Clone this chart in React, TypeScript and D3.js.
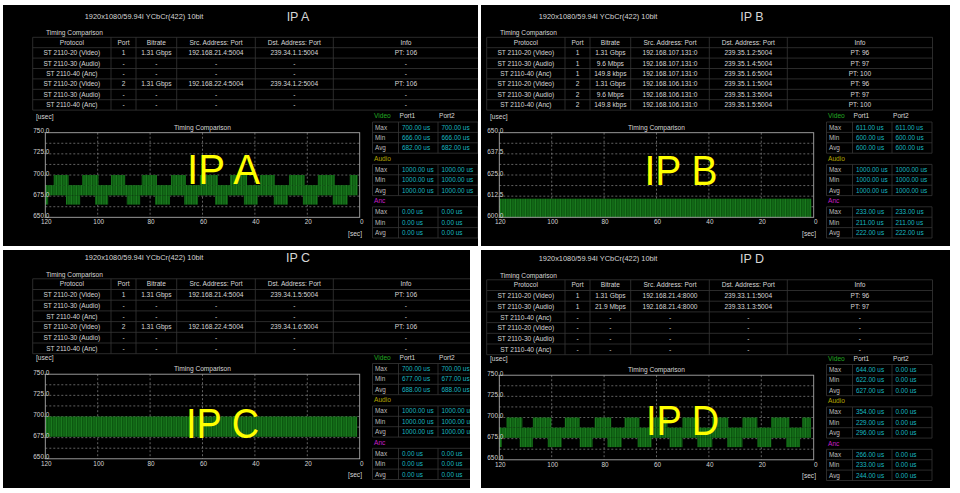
import React from "react";
import * as d3 from "d3";

// ---------- DATA ----------
const FORMAT_TEXT = "1920x1080/59.94I YCbCr(422) 10bit";
const TABLE_TITLE = "Timing Comparison";
const TABLE_COLUMNS = ["Protocol", "Port", "Bitrate", "Src. Address: Port", "Dst. Address: Port", "Info"];
const PROTOCOLS = ["ST 2110-20 (Video)", "ST 2110-30 (Audio)", "ST 2110-40 (Anc)", "ST 2110-20 (Video)", "ST 2110-30 (Audio)", "ST 2110-40 (Anc)"];

const IPA_PORT = ["1", "-", "-", "2", "-", "-"];
const IPA_BITRATE = ["1.31 Gbps", "-", "-", "1.31 Gbps", "-", "-"];
const IPA_SRC = ["192.168.21.4:5004", "-", "-", "192.168.22.4:5004", "-", "-"];
const IPA_DST = ["239.34.1.1:5004", "-", "-", "239.34.1.2:5004", "-", "-"];
const IPA_INFO = ["PT: 106", "-", "-", "PT: 106", "-", "-"];

const IPB_PORT = ["1", "1", "1", "2", "2", "2"];
const IPB_BITRATE = ["1.31 Gbps", "9.6 Mbps", "149.8 kbps", "1.31 Gbps", "9.6 Mbps", "149.8 kbps"];
const IPB_SRC = ["192.168.107.131:0", "192.168.107.131:0", "192.168.107.131:0", "192.168.106.131:0", "192.168.106.131:0", "192.168.106.131:0"];
const IPB_DST = ["239.35.1.2:5004", "239.35.1.4:5004", "239.35.1.6:5004", "239.35.1.1:5004", "239.35.1.3:5004", "239.35.1.5:5004"];
const IPB_INFO = ["PT: 96", "PT: 97", "PT: 100", "PT: 96", "PT: 97", "PT: 100"];

const IPC_PORT = ["1", "-", "-", "2", "-", "-"];
const IPC_BITRATE = ["1.31 Gbps", "-", "-", "1.31 Gbps", "-", "-"];
const IPC_SRC = ["192.168.21.4:5004", "-", "-", "192.168.22.4:5004", "-", "-"];
const IPC_DST = ["239.34.1.5:5004", "-", "-", "239.34.1.6:5004", "-", "-"];
const IPC_INFO = ["PT: 106", "-", "-", "PT: 106", "-", "-"];

const IPD_PORT = ["1", "1", "-", "-", "-", "-"];
const IPD_BITRATE = ["1.31 Gbps", "21.9 Mbps", "-", "-", "-", "-"];
const IPD_SRC = ["192.168.21.4:8000", "192.168.21.4:8000", "-", "-", "-", "-"];
const IPD_DST = ["239.33.1.1:5004", "239.33.1.3:5004", "-", "-", "-", "-"];
const IPD_INFO = ["PT: 96", "PT: 97", "-", "-", "-", "-"];

const STAT_GROUPS = ["Video", "Audio", "Anc"];
const STAT_ROWS = ["Max", "Min", "Avg"];
const STAT_PORTS = ["Port1", "Port2"];

const IPA_P1 = ["700.00 us", "666.00 us", "682.00 us", "1000.00 us", "1000.00 us", "1000.00 us", "0.00 us", "0.00 us", "0.00 us"];
const IPA_P2 = ["700.00 us", "666.00 us", "682.00 us", "1000.00 us", "1000.00 us", "1000.00 us", "0.00 us", "0.00 us", "0.00 us"];
const IPB_P1 = ["611.00 us", "600.00 us", "600.00 us", "1000.00 us", "1000.00 us", "1000.00 us", "233.00 us", "211.00 us", "222.00 us"];
const IPB_P2 = ["611.00 us", "600.00 us", "600.00 us", "1000.00 us", "1000.00 us", "1000.00 us", "233.00 us", "211.00 us", "222.00 us"];
const IPC_P1 = ["700.00 us", "677.00 us", "688.00 us", "1000.00 us", "1000.00 us", "1000.00 us", "0.00 us", "0.00 us", "0.00 us"];
const IPC_P2 = ["700.00 us", "677.00 us", "688.00 us", "1000.00 us", "1000.00 us", "1000.00 us", "0.00 us", "0.00 us", "0.00 us"];
const IPD_P1 = ["644.00 us", "622.00 us", "627.00 us", "354.00 us", "229.00 us", "296.00 us", "266.00 us", "233.00 us", "244.00 us"];
const IPD_P2 = ["0.00 us", "0.00 us", "0.00 us", "0.00 us", "0.00 us", "0.00 us", "0.00 us", "0.00 us", "0.00 us"];

const X_TICKS = [120, 100, 80, 60, 40, 20, 0];
const Y_TICKS_700 = [750, 725, 700, 675, 650];
const Y_GRID_700 = [737.5, 725, 712.5, 700, 687.5, 675, 662.5];
const Y_TICKS_625 = [650, 637.5, 625, 612.5, 600];
const Y_GRID_625 = [643.75, 637.5, 631.25, 625, 618.75, 612.5, 606.25];

// green timing traces: [from sec, to sec, low usec, high usec]
const IPA_BAND = [[120, 0.8, 676, 688]];
const IPA_HIGH = [[116.8, 111.1], [106.0, 99.7], [94.9, 89.5], [83.2, 77.4], [72.0, 66.3], [61.0, 54.1], [49.5, 43.0], [38.1, 32.4], [27.0, 21.0], [16.0, 9.5], [3.8, 0.8]];
const IPA_LOW = [[120, 118.9], [112.1, 106.7], [101.0, 96.0], [88.9, 83.8], [78.1, 72.4], [67.0, 61.7], [55.2, 50.3], [44.2, 38.9], [32.8, 27.4], [21.7, 16.0], [10.3, 4.6]];
const IPB_BAND = [[120, 0.9, 600, 611]];
const IPC_BAND = [[120, 1.0, 676, 700]];
const IPD_BAND = [[120, 1.1, 676, 688]];
const IPD_HIGH = [[117.3, 111.2], [107.2, 100.1], [95.0, 89.3], [83.6, 77.3], [72.2, 66.5], [61.5, 55.8], [50.1, 43.6], [38.7, 32.6], [27.2, 21.5], [16.3, 9.3], [4.4, 1.1]];
const IPD_LOW = [[120, 119.0], [112.2, 107.2], [101.5, 96.2], [89.3, 84.4], [78.7, 73.3], [67.2, 61.9], [55.0, 50.1], [44.4, 38.7], [33.0, 27.2], [21.5, 16.2], [10.5, 5.2]];
const HIGH_RANGE = [688, 700];
const LOW_RANGE = [665, 676];

// ---------- LAYOUT / STYLE ----------
const FONT = "'Liberation Sans', Arial, sans-serif";
const TXT = "#d6d6d6";
const LINE = "#363636";
const CYAN = "#18b8c0";
const GROUP_COLORS = ["#22a822", "#b4a400", "#c81ec8"];

type Cfg = {
  name: string; dx: number; dy: number; clip: number[]; rowH: number;
  cols: string[][]; p1: string[]; p2: string[];
  yTicks: number[]; yGrid: number[];
  band: number[][]; high: number[][]; low: number[][];
  big: number[];
};

const PANELS: Cfg[] = [
  { name: "IP A", dx: 26, dy: 0, clip: [3, 5, 475, 241], rowH: 10.4,
    cols: [PROTOCOLS, IPA_PORT, IPA_BITRATE, IPA_SRC, IPA_DST, IPA_INFO], p1: IPA_P1, p2: IPA_P2,
    yTicks: Y_TICKS_700, yGrid: Y_GRID_700, band: IPA_BAND, high: IPA_HIGH, low: IPA_LOW, big: [197.5, 184] },
  { name: "IP B", dx: 480, dy: 0, clip: [481, 5, 469, 241], rowH: 10.4,
    cols: [PROTOCOLS, IPB_PORT, IPB_BITRATE, IPB_SRC, IPB_DST, IPB_INFO], p1: IPB_P1, p2: IPB_P2,
    yTicks: Y_TICKS_625, yGrid: Y_GRID_625, band: IPB_BAND, high: [], low: [], big: [201, 185] },
  { name: "IP C", dx: 26, dy: 241.5, clip: [3, 250, 467, 238], rowH: 10.7,
    cols: [PROTOCOLS, IPC_PORT, IPC_BITRATE, IPC_SRC, IPC_DST, IPC_INFO], p1: IPC_P1, p2: IPC_P2,
    yTicks: Y_TICKS_700, yGrid: Y_GRID_700, band: IPC_BAND, high: [], low: [], big: [196.5, 196] },
  { name: "IP D", dx: 480, dy: 242.5, clip: [481, 250, 469, 238], rowH: 10.7,
    cols: [PROTOCOLS, IPD_PORT, IPD_BITRATE, IPD_SRC, IPD_DST, IPD_INFO], p1: IPD_P1, p2: IPD_P2,
    yTicks: Y_TICKS_700, yGrid: Y_GRID_700, band: IPD_BAND, high: IPD_HIGH, low: IPD_LOW, big: [202.5, 192] },
];

const COL_X = [6.7, 85, 110, 150.7, 229.3, 307.3, 452.5];
const TABLE_TOP = 37.3;
const PLOT = { left: 19.3, right: 333.7, top: 132.7, bottom: 217.3 };
const STAT_X = [346.5, 372.5, 412, 452];

function Panel({ c, idx }: { c: Cfg; idx: number }) {
  const x = d3.scaleLinear().domain([120, 0]).range([PLOT.left, PLOT.right]);
  const ext = d3.extent(c.yTicks) as [number, number];
  const y = d3.scaleLinear().domain(ext).range([PLOT.bottom, PLOT.top]);
  const fmt = d3.format(".1f");
  const pid = `stripes${idx}`;
  const rect = (d: number[], lo: number, hi: number, k: string) => (
    <rect key={k} x={x(d[0])} width={x(d[1]) - x(d[0])} y={y(hi)} height={y(lo) - y(hi)} fill={`url(#${pid})`} />
  );
  const rowsTop = TABLE_TOP;
  return (
    <g clipPath={`url(#clip${idx})`}>
      <defs>
        <clipPath id={`clip${idx}`}>
          <rect x={c.clip[0]} y={c.clip[1]} width={c.clip[2]} height={c.clip[3]} />
        </clipPath>
        <pattern id={pid} width={5} height={4} patternUnits="userSpaceOnUse">
          <rect width={5} height={4} fill="#0c5810" />
          <rect x={0} width={1} height={4} fill="#1a7a1e" />
          <rect x={2} width={1} height={4} fill="#136a17" />
          <rect x={3.5} width={0.8} height={4} fill="#18761c" />
        </pattern>
      </defs>
      <rect x={c.clip[0]} y={c.clip[1]} width={c.clip[2]} height={c.clip[3]} fill="#000" />
      <g transform={`translate(${c.dx},${c.dy})`} fontFamily={FONT}>
        {/* header */}
        <text x={118} y={18.5} fontSize={7.4} fill={TXT} textAnchor="middle">{FORMAT_TEXT}</text>
        <text x={272} y={20.5} fontSize={12.5} fill={TXT} textAnchor="middle">{c.name}</text>
        <text x={20} y={35.3} fontSize={6.6} fill={TXT}>{TABLE_TITLE}</text>
        {/* table */}
        {d3.range(8).map((i) => (
          <line key={`h${i}`} x1={COL_X[0]} x2={COL_X[6]} y1={rowsTop + i * c.rowH} y2={rowsTop + i * c.rowH} stroke={LINE} strokeWidth={0.8} />
        ))}
        {COL_X.map((cx, i) => (
          <line key={`v${i}`} x1={cx} x2={cx} y1={rowsTop} y2={rowsTop + 7 * c.rowH} stroke={LINE} strokeWidth={0.8} />
        ))}
        {TABLE_COLUMNS.map((h, j) => (
          <text key={`th${j}`} x={(COL_X[j] + COL_X[j + 1]) / 2} y={rowsTop + c.rowH / 2 + 2.3} fontSize={6.6} fill={TXT} textAnchor="middle">{h}</text>
        ))}
        {c.cols.map((col, j) =>
          col.map((v, r) => (
            <text key={`td${j}-${r}`} x={(COL_X[j] + COL_X[j + 1]) / 2} y={rowsTop + (r + 1) * c.rowH + c.rowH / 2 + 2.3} fontSize={6.6} fill={TXT} textAnchor="middle">{v}</text>
          ))
        )}
        {/* plot */}
        <text x={10} y={118.5} fontSize={6.6} fill={TXT}>[usec]</text>
        <text x={(PLOT.left + PLOT.right) / 2} y={129.6} fontSize={6.6} fill={TXT} textAnchor="middle">Timing Comparison</text>
        {c.yGrid.map((v) => (
          <line key={`gy${v}`} x1={PLOT.left} x2={PLOT.right} y1={y(v)} y2={y(v)} stroke="#8a8a8a" strokeWidth={0.7} strokeDasharray="2,2" />
        ))}
        {X_TICKS.slice(1, -1).map((t) => (
          <line key={`gx${t}`} x1={x(t)} x2={x(t)} y1={PLOT.top} y2={PLOT.bottom} stroke="#8a8a8a" strokeWidth={0.7} strokeDasharray="2,2" />
        ))}
        {c.band.map((d, i) => rect(d, d[2], d[3], `b${i}`))}
        {c.high.map((d, i) => rect(d, HIGH_RANGE[0], HIGH_RANGE[1], `hi${i}`))}
        {c.low.map((d, i) => rect(d, LOW_RANGE[0], LOW_RANGE[1], `lo${i}`))}
        <rect x={PLOT.left} y={PLOT.top} width={PLOT.right - PLOT.left} height={PLOT.bottom - PLOT.top} fill="none" stroke="#a8a8a8" strokeWidth={0.9} />
        {c.yTicks.map((v) => (
          <text key={`yl${v}`} x={7.3} y={y(v) + 0.5} fontSize={6.4} fill={TXT}>{fmt(v)}</text>
        ))}
        {X_TICKS.map((t) => (
          <text key={`xl${t}`} x={x(t) + (t === 0 ? 2 : 1)} y={PLOT.bottom + 6.8} fontSize={6.4} fill={TXT} textAnchor="middle">{t}</text>
        ))}
        <text x={336} y={235.5} fontSize={6.6} fill={TXT} textAnchor="end">[sec]</text>
        {/* stats */}
        {STAT_GROUPS.map((g, gi) => {
          const top = 122 + gi * 42.4;
          const rh = 10.4;
          return (
            <g key={g}>
              <text x={STAT_X[0] + 1.5} y={top - 3.6} fontSize={6.6} fill={GROUP_COLORS[gi]}>{g}</text>
              {gi === 0 && STAT_PORTS.map((p, pi) => (
                <text key={p} x={STAT_X[pi + 1] + 1} y={top - 3.6} fontSize={6.6} fill={TXT}>{p}</text>
              ))}
              {d3.range(4).map((i) => (
                <line key={`sh${i}`} x1={STAT_X[0]} x2={STAT_X[3]} y1={top + i * rh} y2={top + i * rh} stroke={LINE} strokeWidth={0.8} />
              ))}
              {STAT_X.map((sx, i) => (
                <line key={`sv${i}`} x1={sx} x2={sx} y1={top} y2={top + 3 * rh} stroke={LINE} strokeWidth={0.8} />
              ))}
              {STAT_ROWS.map((r, ri) => (
                <g key={r}>
                  <text x={STAT_X[0] + 2.5} y={top + ri * rh + rh / 2 + 2.3} fontSize={6.4} fill="#bdbdbd">{r}</text>
                  <text x={STAT_X[1] + 3.5} y={top + ri * rh + rh / 2 + 2.3} fontSize={6.4} fill={CYAN}>{c.p1[gi * 3 + ri]}</text>
                  <text x={STAT_X[2] + 3.5} y={top + ri * rh + rh / 2 + 2.3} fontSize={6.4} fill={CYAN}>{c.p2[gi * 3 + ri]}</text>
                </g>
              ))}
            </g>
          );
        })}
        {/* overlay label */}
        <text x={c.big[0]} y={c.big[1]} fontSize={43} fill="#ffff00" textAnchor="middle" textLength={73} lengthAdjust="spacingAndGlyphs">{c.name}</text>
      </g>
    </g>
  );
}

export default function App() {
  return (
    <svg width={960} height={493} style={{ position: "absolute", left: 0, top: 0, background: "#fff" }}>
      {PANELS.map((c, i) => (
        <Panel key={c.name} c={c} idx={i} />
      ))}
    </svg>
  );
}
